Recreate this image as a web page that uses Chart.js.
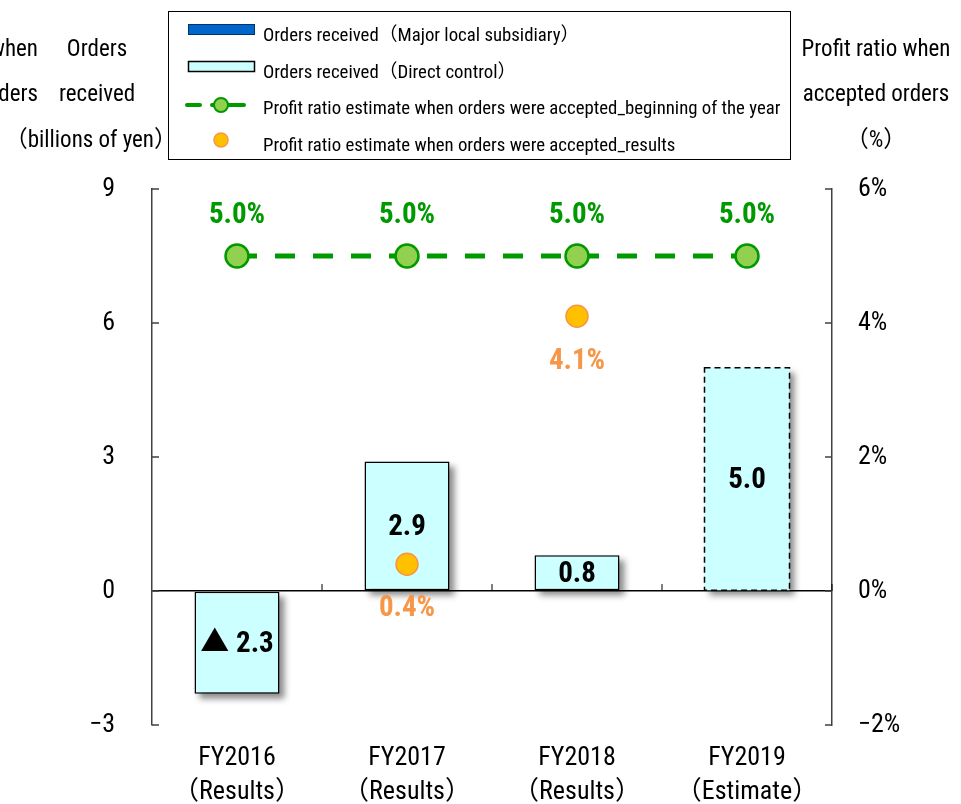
<!DOCTYPE html>
<html>
<head>
<meta charset="utf-8">
<script src="https://cdn.jsdelivr.net/npm/chart.js@4.4.1/dist/chart.umd.min.js"></script>
<style>
  body { margin: 0; background: #fff; }
</style>
</head>
<body>
<canvas id="myChart" width="961" height="804"></canvas>
<script>
var ctx;
var myChart;

// data
var years = [['FY2016', '（Results）'], ['FY2017', '（Results）'], ['FY2018', '（Results）'], ['FY2019', '（Estimate）']];
var subsidiaryOrders = [0, 0, 0, 0];
var directOrders = [-2.3, 2.9, 0.8, 5.0];
var ratioPlan = [5.0, 5.0, 5.0, 5.0];
var ratioResults = [null, 0.4, 4.1, null];

var ordersRange = [-3, 9, 3];
var ratioRange = [-2, 6, 2];

var legendNames = [
  'Orders received（Major local subsidiary）',
  'Orders received（Direct control）',
  'Profit ratio estimate when orders were accepted_beginning of the year',
  'Profit ratio estimate when orders were accepted_results'
];

var NARROW = '"Roboto Condensed", "Noto Sans CJK JP", sans-serif';

var GREEN = '#009900';
var ORANGE = '#F79646';

function fmtOrders(v) {
  var s = Math.abs(v).toFixed(1);
  return v < 0 ? '▲ ' + s : s;
}

function text(c, str, x, y, font, color, align) {
  c.font = font;
  c.fillStyle = color || '#000';
  c.textAlign = align || 'center';
  c.textBaseline = 'middle';
  c.fillText(str, x, y);
}

// drop shadow under the direct-control bars + dashed outline on the estimate bar
var barStyle = {
  id: 'barStyle',
  beforeDatasetDraw: function(chart, args) {
    if (args.index !== 1) return;
    var c = chart.ctx;
    c.save();
    c.filter = 'blur(3px)';
    c.fillStyle = 'rgba(0,0,0,0.45)';
    args.meta.data.forEach(function(bar) {
      var top = Math.min(bar.y, bar.base), h = Math.abs(bar.base - bar.y);
      c.fillRect(bar.x - bar.width / 2 + 5, top + 5, bar.width, h);
    });
    c.restore();
  },
  afterDatasetDraw: function(chart, args) {
    if (args.index !== 1) return;
    var c = chart.ctx;
    var bar = args.meta.data[3];
    var top = Math.min(bar.y, bar.base), h = Math.abs(bar.base - bar.y);
    c.save();
    c.strokeStyle = '#000';
    c.lineWidth = 1.5;
    c.setLineDash([6, 4]);
    c.strokeRect(bar.x - bar.width / 2, top, bar.width, h);
    c.restore();
  }
};

// value labels
var valueLabels = {
  id: 'valueLabels',
  afterDatasetsDraw: function(chart) {
    var c = chart.ctx;
    var bold = 'bold 29px ' + NARROW;
    chart.getDatasetMeta(1).data.forEach(function(bar, i) {
      text(c, fmtOrders(directOrders[i]), bar.x, (bar.y + bar.base) / 2 + 2, bold, '#000');
    });
    chart.getDatasetMeta(2).data.forEach(function(pt, i) {
      text(c, ratioPlan[i].toFixed(1) + '%', pt.x, pt.y - 40, bold, GREEN);
    });
    chart.getDatasetMeta(3).data.forEach(function(pt, i) {
      if (ratioResults[i] === null) return;
      text(c, ratioResults[i].toFixed(1) + '%', pt.x, pt.y + 45, bold, ORANGE);
    });
  }
};

// inward tick marks, zero line category ticks, axis titles, legend box
var decor = {
  id: 'decor',
  afterDraw: function(chart) {
    var c = chart.ctx;
    var a = chart.chartArea;
    var sy = chart.scales.y, sy1 = chart.scales.y1, sx = chart.scales.x;
    c.save();
    c.strokeStyle = '#404040';
    c.lineWidth = 1.5;
    c.beginPath();
    sy.ticks.forEach(function(t) {
      var p = sy.getPixelForValue(t.value);
      c.moveTo(a.left, p); c.lineTo(a.left + 7, p);
    });
    sy1.ticks.forEach(function(t) {
      var p = sy1.getPixelForValue(t.value);
      c.moveTo(a.right, p); c.lineTo(a.right - 7, p);
    });
    c.stroke();
    var zero = sy.getPixelForValue(0);
    c.strokeStyle = '#000';
    c.lineWidth = 1;
    c.beginPath();
    for (var i = 0; i < years.length; i++) {
      var bx = i < years.length - 1 ? (sx.getPixelForValue(i) + sx.getPixelForValue(i + 1)) / 2 : a.right;
      c.moveTo(bx, zero); c.lineTo(bx, zero - 7);
    }
    c.stroke();
    c.restore();

    // axis titles
    var tf = '23px ' + NARROW;
    c.save();
    text(c, 'Profit ratio when', 38, 50, tf, '#000', 'right');
    text(c, 'accepted orders', 38, 95, tf, '#000', 'right');
    text(c, 'Orders', 97, 50, tf);
    text(c, 'received', 97, 95, tf);
    text(c, '（billions of yen）', 177, 141, tf, '#000', 'right');
    text(c, 'Profit ratio when', 876, 50, tf);
    text(c, 'accepted orders', 876, 95, tf);
    text(c, '（%）', 876, 141, tf);
    c.restore();

    // legend
    c.save();
    c.strokeStyle = '#000';
    c.lineWidth = 1;
    c.strokeRect(168.5, 11.5, 622, 148);
    var ds = chart.data.datasets;
    var rows = [36, 73, 109, 146];
    c.fillStyle = ds[0].backgroundColor;
    c.fillRect(188, 24, 67, 11);
    c.strokeStyle = '#003366';
    c.strokeRect(188.5, 24.5, 66, 10);
    c.fillStyle = ds[1].backgroundColor;
    c.fillRect(188, 61, 67, 11);
    c.strokeStyle = '#000';
    c.lineWidth = 1.5;
    c.strokeRect(188.5, 61.5, 66, 10);
    c.strokeStyle = GREEN;
    c.lineWidth = 4;
    c.lineCap = 'round';
    c.beginPath();
    c.moveTo(187, 105); c.lineTo(200, 105);
    c.moveTo(212, 105); c.lineTo(244, 105);
    c.stroke();
    c.beginPath();
    c.arc(221, 105, 7, 0, Math.PI * 2);
    c.fillStyle = ds[2].pointBackgroundColor;
    c.fill();
    c.lineWidth = 2;
    c.stroke();
    c.beginPath();
    c.arc(221, 140, 7, 0, Math.PI * 2);
    c.fillStyle = ds[3].pointBackgroundColor;
    c.fill();
    c.strokeStyle = ORANGE;
    c.lineWidth = 1.5;
    c.stroke();
    legendNames.forEach(function(n, i) {
      text(c, n, 263, rows[i], '18.8px ' + NARROW, '#000', 'left');
    });
    c.restore();
  }
};

window.onload = function() {
  ctx = document.getElementById('myChart').getContext('2d');

  myChart = new Chart(ctx, {
    type: 'bar',
    data: {
      labels: years,
      datasets: [
        {
          label: legendNames[0],
          data: subsidiaryOrders,
          backgroundColor: '#0066CC',
          borderWidth: 0,
          yAxisID: 'y',
          stack: 'orders',
          order: 3
        },
        {
          label: legendNames[1],
          data: directOrders,
          backgroundColor: '#CCFFFF',
          borderColor: '#000',
          borderWidth: [1.5, 1.5, 1.5, 0],
          borderSkipped: false,
          yAxisID: 'y',
          stack: 'orders',
          order: 2
        },
        {
          type: 'line',
          label: legendNames[2],
          data: ratioPlan,
          yAxisID: 'y1',
          borderColor: GREEN,
          borderWidth: 5,
          borderDash: [20, 18],
          borderCapStyle: 'butt',
          pointRadius: 11.5,
          pointBackgroundColor: '#92D050',
          pointBorderColor: GREEN,
          pointBorderWidth: 2.5,
          order: 1
        },
        {
          type: 'line',
          label: legendNames[3],
          data: ratioResults,
          yAxisID: 'y1',
          showLine: false,
          pointRadius: 11,
          pointBackgroundColor: '#FFC000',
          pointBorderColor: ORANGE,
          pointBorderWidth: 1.5,
          order: 0
        }
      ]
    },
    options: {
      responsive: false,
      animation: false,
      barPercentage: 0.5,
      categoryPercentage: 1.0,
      layout: { padding: { top: 189, left: 0, right: 0, bottom: 0 } },
      plugins: {
        legend: { display: false },
        tooltip: { enabled: false }
      },
      scales: {
        x: {
          stacked: true,
          grid: { display: false, drawTicks: false },
          border: { display: false },
          ticks: {
            color: '#000',
            font: { family: NARROW, size: 26, lineHeight: 1.3 },
            padding: 17,
            maxRotation: 0,
            autoSkip: false
          },
          afterFit: function(s) { s.height = 79; }
        },
        y: {
          position: 'left',
          stacked: true,
          min: ordersRange[0],
          max: ordersRange[1],
          ticks: {
            stepSize: ordersRange[2],
            color: '#000',
            font: { family: NARROW, size: 26 },
            padding: 37,
            callback: function(v) { return v < 0 ? '−' + Math.abs(v) : '' + v; }
          },
          grid: {
            drawTicks: false,
            lineWidth: 1.5,
            color: function(c) { return c.tick && c.tick.value === 0 ? '#000' : 'rgba(0,0,0,0)'; }
          },
          border: { color: '#404040', width: 1.5 },
          afterFit: function(s) { s.width = 152; }
        },
        y1: {
          position: 'right',
          min: ratioRange[0],
          max: ratioRange[1],
          ticks: {
            stepSize: ratioRange[2],
            color: '#000',
            font: { family: NARROW, size: 26 },
            padding: 26,
            callback: function(v) { return (v < 0 ? '−' + Math.abs(v) : v) + '%'; }
          },
          grid: { drawOnChartArea: false, drawTicks: false },
          border: { color: '#404040', width: 1.5 },
          afterFit: function(s) { s.width = 129; }
        }
      }
    },
    plugins: [barStyle, valueLabels, decor]
  });
};
</script>
</body>
</html>
